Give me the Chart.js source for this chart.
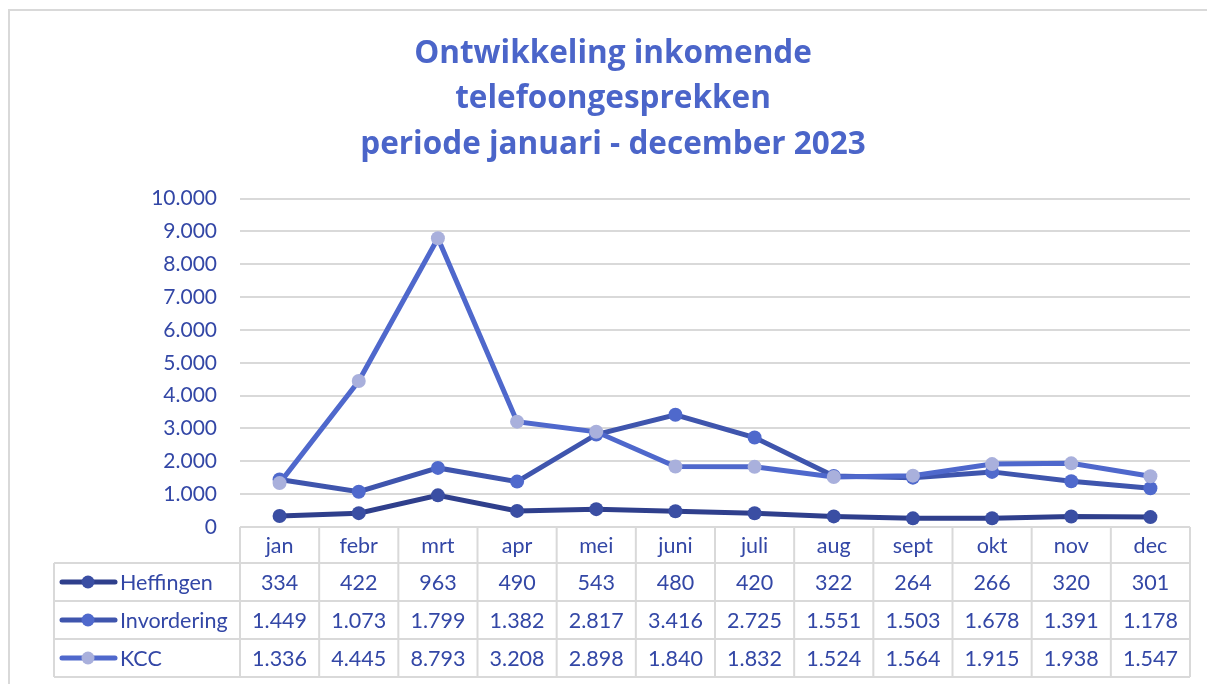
<!DOCTYPE html>
<html>
<head>
<meta charset="utf-8">
<script src="https://cdn.jsdelivr.net/npm/chart.js@4/dist/chart.umd.min.js"></script>
<style>
  html, body { margin: 0; padding: 0; background: #fff; }
  #wrap { width: 1207px; height: 684px; position: relative; }
</style>
</head>
<body>
<div id="wrap"><canvas id="c" width="1207" height="684"></canvas></div>
<script>
const months = ['jan','febr','mrt','apr','mei','juni','juli','aug','sept','okt','nov','dec'];
const heffingen = [334,422,963,490,543,480,420,322,264,266,320,301];
const invordering = [1449,1073,1799,1382,2817,3416,2725,1551,1503,1678,1391,1178];
const kcc = [1336,4445,8793,3208,2898,1840,1832,1524,1564,1915,1938,1547];
const seriesNames = ['Heffingen','Invordering','KCC'];
const yTicks = [0,1000,2000,3000,4000,5000,6000,7000,8000,9000,10000];
const titleLines = ['Ontwikkeling inkomende','telefoongesprekken','periode januari - december 2023'];

const FONT = 'Lato, "Open Sans", sans-serif';
const TITLE_FONT = '"Open Sans", Lato, sans-serif';
const TEXT = '#3347A6';
const GRID = '#D9D9D9';
const lineColors = ['#2F3F8C','#3F55AD','#4F68CC'];
const markerColors = ['#3A4EA3','#4F69CC','#A9B0DC'];

function fmt(v){ return v.toString().replace(/\B(?=(\d{3})+(?!\d))/g,'.'); }

const borderPlugin = {
  id: 'outerBorder',
  beforeDraw(chart){
    const ctx = chart.ctx;
    ctx.save();
    ctx.fillStyle = '#fff';
    ctx.fillRect(0,0,chart.width,chart.height);
    ctx.strokeStyle = GRID;
    ctx.lineWidth = 2;
    ctx.strokeRect(9, 10, chart.width + 20, chart.height + 20);
    ctx.restore();
  }
};

const tablePlugin = {
  id: 'dataTable',
  afterDraw(chart){
    const ctx = chart.ctx, xs = chart.scales.x, area = chart.chartArea;
    const n = months.length;
    const colW = xs.getPixelForValue(1) - xs.getPixelForValue(0);
    const left = area.left, right = area.right;
    const headTop = area.bottom, headH = 36, rowH = 38;
    const legLeft = 54;
    const rows = [heffingen, invordering, kcc];
    ctx.save();
    ctx.strokeStyle = GRID;
    ctx.lineWidth = 2;
    ctx.beginPath();
    ctx.moveTo(left, headTop); ctx.lineTo(right, headTop);
    for (let r = 0; r <= rows.length; r++) {
      const y = headTop + headH + r*rowH;
      ctx.moveTo(legLeft, y); ctx.lineTo(right, y);
    }
    const bottom = headTop + headH + rows.length*rowH;
    for (let i = 0; i <= n; i++) {
      const x = left + i*colW;
      ctx.moveTo(x, headTop); ctx.lineTo(x, bottom);
    }
    ctx.moveTo(legLeft, headTop + headH); ctx.lineTo(legLeft, bottom);
    ctx.stroke();

    ctx.fillStyle = TEXT;
    ctx.font = '21.5px ' + FONT;
    ctx.textAlign = 'center';
    ctx.textBaseline = 'middle';
    months.forEach((m,i) => {
      ctx.fillText(m, xs.getPixelForValue(i), headTop + headH/2 + 1);
    });
    rows.forEach((vals, r) => {
      const yc = headTop + headH + r*rowH + rowH/2 + 1;
      vals.forEach((v,i) => {
        ctx.fillText(fmt(v), xs.getPixelForValue(i), yc);
      });
      ctx.strokeStyle = lineColors[r];
      ctx.lineWidth = 5;
      ctx.lineCap = 'round';
      ctx.beginPath();
      ctx.moveTo(62, yc - 1); ctx.lineTo(115, yc - 1);
      ctx.stroke();
      ctx.fillStyle = markerColors[r];
      ctx.beginPath();
      ctx.arc(88, yc - 1, 6.5, 0, Math.PI*2);
      ctx.fill();
      ctx.fillStyle = TEXT;
      ctx.textAlign = 'left';
      ctx.fillText(seriesNames[r], 120, yc);
      ctx.textAlign = 'center';
    });
    ctx.restore();
  }
};

function ds(label, data, i){
  return {
    label, data,
    borderColor: lineColors[i],
    backgroundColor: markerColors[i],
    pointBackgroundColor: markerColors[i],
    pointBorderColor: markerColors[i],
    pointRadius: 7,
    pointBorderWidth: 0,
    borderWidth: 5,
    tension: 0,
    order: 3 - i
  };
}

new Chart(document.getElementById('c'), {
  type: 'line',
  data: {
    labels: months,
    datasets: [ds(seriesNames[0], heffingen, 0), ds(seriesNames[1], invordering, 1), ds(seriesNames[2], kcc, 2)]
  },
  options: {
    responsive: false,
    animation: false,
    events: [],
    layout: { padding: { left: 36, right: 17, top: 31, bottom: 157 } },
    plugins: {
      legend: { display: false },
      tooltip: { enabled: false },
      title: {
        display: true,
        text: titleLines,
        color: '#4B65C9',
        font: { family: TITLE_FONT, size: 31.5, weight: 'bold', lineHeight: 1.445 },
        padding: { top: 0, bottom: 31 }
      }
    },
    scales: {
      x: {
        type: 'category',
        offset: true,
        display: false
      },
      y: {
        min: 0, max: 10000,
        afterFit(scale){ scale.width = 204; },
        afterBuildTicks(scale){ scale.ticks = yTicks.map(v => ({value: v})); },
        ticks: {
          color: TEXT,
          font: { family: FONT, size: 21 },
          padding: 23,
          callback: v => fmt(v)
        },
        grid: { color: GRID, lineWidth: 2, drawTicks: false },
        border: { display: false }
      }
    }
  },
  plugins: [borderPlugin, tablePlugin]
});
</script>
</body>
</html>
